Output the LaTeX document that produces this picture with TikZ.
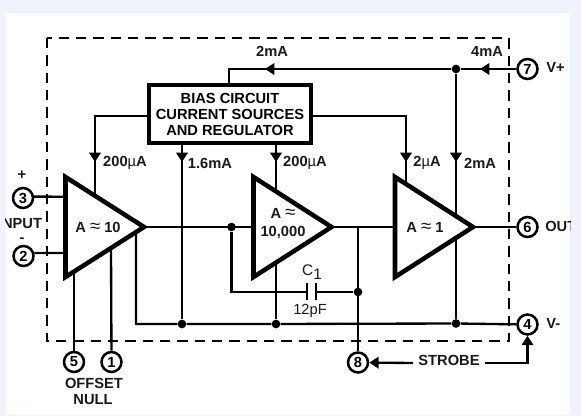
\documentclass[tikz,border=0pt]{standalone}
\usepackage{fontspec}
\setmainfont{Liberation Sans}
\usetikzlibrary{arrows.meta}
\definecolor{edgeblue}{HTML}{EEF4FA}
\tikzset{
  x=0.75pt,y=-0.75pt,
  wire/.style={line width=1.75pt},
  arrowwire/.style={wire,-{Triangle[length=7pt,width=8.5pt]},shorten >=0pt},
  amp/.style={line width=3.4pt,miter limit=10,line join=miter},
  pin/.style={circle,draw,line width=1.9pt,minimum size=15pt,inner sep=0pt,fill=white,font=\bfseries\fontsize{11}{12}\selectfont},
  dot/.style={circle,fill=black,inner sep=0pt,minimum size=6.5pt},
  lbl/.style={font=\bfseries\fontsize{11}{12}\selectfont,inner sep=0pt,text=black!90},
  biasbox/.style={draw,line width=3pt,fill=white,minimum width=121.5pt,minimum height=43.5pt,inner sep=0pt,align=center,font=\bfseries\fontsize{11}{12}\selectfont},
}
\newcommand{\mum}{{\normalfont µ}}
\newcommand{\apx}{{\normalfont\fontsize{14}{14}\selectfont ≈}}
\begin{document}
\begin{tikzpicture}
\useasboundingbox (0,0) rectangle (581,416);
\fill[edgeblue] (0,0) rectangle (581,416);
\fill[white] (5,13) rectangle (570,415);
\begin{scope}
\clip (5,13) rectangle (570,415);
% outer dashed box
\draw[line width=1.9pt,dash pattern=on 7.8pt off 5.2pt] (47,38) rectangle (509,341);
% pins
\node[pin] (p3) at (23,198) {3};
\node[pin] (p2) at (23.5,256) {2};
\node[pin] (p7) at (527.5,69) {7};
\node[pin] (p6) at (527.5,227) {6};
\node[pin] (p4) at (527.5,324.5) {4};
\node[pin] (p5) at (74,362) {5};
\node[pin] (p1) at (111.5,362) {1};
\node[pin] (p8) at (358,362.5) {8};
% bias box
\node[biasbox] (bias) at (230,114) {BIAS CIRCUIT\\CURRENT SOURCES\\AND REGULATOR};
% junctions
\node[dot] (j7) at (456,69) {};
\node[dot] (jo) at (231.5,227) {};
\node[dot] (jc) at (358,292) {};
\node[dot] (g1) at (182,324) {};
\node[dot] (g2) at (276,324) {};
\node[dot] (g3) at (456,323.5) {};
% amp-edge points
\coordinate (a1a) at (95,196);
\coordinate (a2a) at (276,191);
\coordinate (a3a) at (406,184);
\coordinate (a3b) at (456,216);
\coordinate (a1p5) at (74,272);
\coordinate (a1p1) at (111,248);
\coordinate (a1g) at (136,232);
\coordinate (a2g) at (276,263);
\coordinate (a3g) at (456,238);
\coordinate (a1in) at (65.5,196.7);
\coordinate (a1im) at (65.5,253);
\coordinate (a1o) at (144,227);
\coordinate (a2in) at (253.5,227);
\coordinate (a2o) at (331.5,227);
\coordinate (a3in) at (395,227);
\coordinate (a3o) at (473,227);
\coordinate (jt) at (358,227);
\coordinate (cl) at (307,292);
\coordinate (cr) at (316,292);
% wiring
\draw[wire] (p3.7) -- (a1in);
\draw[wire] (p2.15) -- (a1im);
\draw[wire] (p7) -- (j7) -- (229,69) -- (229,83);
\draw[arrowwire] (p7) -- (480,69);
\draw[arrowwire] (j7) -- (265,69);
\draw[wire] (bias.west |- 0,116) -| (a1a);
\draw[arrowwire] (95,140) -- (95,162);
\draw[wire] (bias.east |- 0,116) -| (a3a);
\draw[arrowwire] (406,140) -- (406,162);
\draw[wire] (182,143) -- (g1);
\draw[arrowwire] (182,143) -- (182,162);
\draw[wire] (276,143) -- (a2a);
\draw[arrowwire] (276,143) -- (276,162);
\draw[wire] (j7) -- (a3b);
\draw[arrowwire] (456,140) -- (456,162);
\draw[wire] (a1o) -- (a2in);
\draw[wire] (a2o) -- (a3in);
\draw[wire] (a3o) -- (p6);
\draw[wire] (jt) -- (p8);
\draw[wire] (jo) |- (cl);
\draw[wire] (cr) -- (jc);
\draw[line width=2pt] (307,283) -- (307,300);
\draw[line width=2pt] (316,283) -- (316,300);
\draw[wire] (a1g) |- (g1) -- (g2) -- (g3) -- (p4);
\draw[wire] (a2g) -- (g2);
\draw[wire] (a3g) -- (g3);
\draw[wire] (a1p5) -- (p5);
\draw[wire] (a1p1) -- (p1);
% amplifiers
\draw[amp] (65.5,177) -- (65.5,277) -- (144,227) -- cycle;
\draw[amp] (253.5,177) -- (253.5,277) -- (331.5,227) -- cycle;
\draw[amp] (395,177) -- (395,277) -- (473,227) -- cycle;
% strobe
\node[lbl] (strobe) at (449,360) {STROBE};
\coordinate (st) at (527.5,363);
\draw[arrowwire] (strobe.west) ++(-5,3) -- (p8);
\draw[arrowwire] (strobe.east) ++(5,3) -- (st) -- (p4);
% labels
\node[lbl] (l1) at (98,227) {A \apx\ 10};
\node[lbl,align=center,font=\bfseries\fontsize{11}{13.5}\selectfont] (l2) at (283,224) {A \apx\\10,000};
\node[lbl] (l3) at (425,227) {A \apx\ 1};
\node[lbl] at (22,175) {+};
\node[lbl] at (22,240) {-};
\node[lbl] at (20,224) {INPUT};
\node[lbl,anchor=west] at (545,226) {OUT};
\node[lbl,anchor=west] at (546,67.5) {V+};
\node[lbl,anchor=west] at (546,323) {V-};
\node[lbl] at (272,51) {2mA};
\node[lbl] at (487,51) {4mA};
\node[lbl] at (125,163) {200\mum A};
\node[lbl] at (210,163) {1.6mA};
\node[lbl] at (305,163) {200\mum A};
\node[lbl] at (427,163) {2\mum A};
\node[lbl] at (480,163) {2mA};
\node[lbl] at (94,383) {OFFSET};
\node[lbl] at (93,400) {NULL};
\node[lbl,font=\fontsize{11.5}{12}\selectfont] at (312,272) {C\raisebox{-3.5pt}{1}};
\node[lbl,font=\fontsize{11}{12}\selectfont] at (310,311) {12pF};
\end{scope}
\end{tikzpicture}
\end{document}
